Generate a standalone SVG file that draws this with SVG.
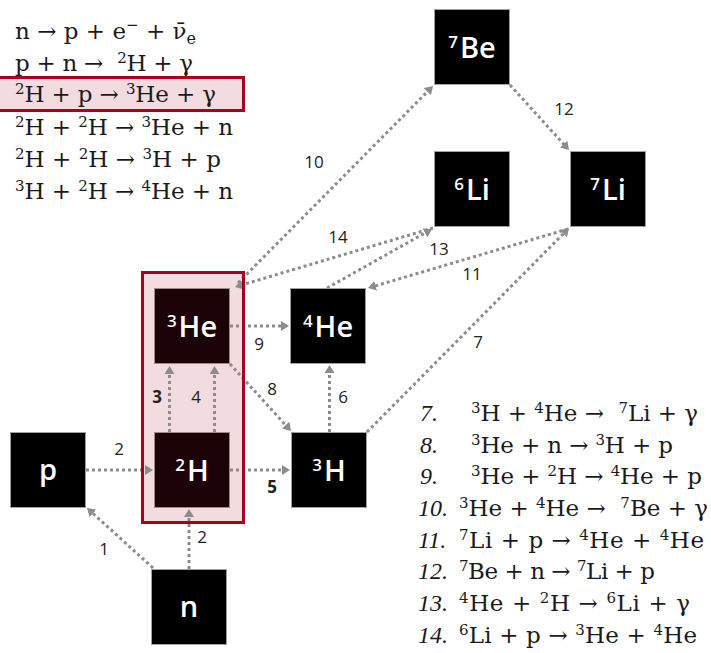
<svg xmlns="http://www.w3.org/2000/svg" width="711" height="653" viewBox="0 0 711 653">
<style>
.eq{font-family:"DejaVu Serif","Liberation Serif",serif;font-size:23px;fill:#1a1a1a}
.s{font-size:15px}
.num{font-family:"Liberation Serif",serif;font-style:italic;font-size:24px;fill:#1a1a1a}
.box{fill:#000;stroke:#a0a0a0;stroke-width:1}
.hbox{fill:#1c0307;stroke:#a08888;stroke-width:1}
.nl{font-family:"Open Sans","DejaVu Sans",sans-serif;font-weight:600;font-size:29px;fill:#fff;text-anchor:middle}
.sup{font-size:17px}
.c{stroke:#8c8c8c;stroke-width:3;stroke-dasharray:3 3;fill:none;marker-end:url(#ah)}
.lb{font-family:"Open Sans","DejaVu Sans",sans-serif;font-size:17px;fill:#222;text-anchor:middle}
.b{font-weight:700}
</style>
<defs>
<marker id="ah" markerUnits="userSpaceOnUse" markerWidth="8" markerHeight="10" refX="5" refY="5" orient="auto">
<path d="M0,0 L8,5 L0,10 z" fill="#8c8c8c"/>
</marker>
</defs>
<rect width="711" height="653" fill="#fff"/>

<g id="equations-left">
<rect x="-2" y="77.5" width="245.5" height="33" fill="#f2dcdf" stroke="#a8001f" stroke-width="3"/>
<text class="eq" x="15" y="39" textLength="181">n → p + e<tspan class="s" dy="-9">−</tspan><tspan dy="9"> + ν̄</tspan><tspan font-size="16" dy="5">e</tspan></text>
<text class="eq" x="15" y="71" textLength="178">p + n →&#160; <tspan class="s" dy="-8">2</tspan><tspan dy="8">H + γ</tspan></text>
<text class="eq" x="15" y="102" textLength="201"><tspan class="s" dy="-8">2</tspan><tspan dy="8">H + p → </tspan><tspan class="s" dy="-8">3</tspan><tspan dy="8">He + γ</tspan></text>
<text class="eq" x="15" y="135" textLength="218"><tspan class="s" dy="-8">2</tspan><tspan dy="8">H + </tspan><tspan class="s" dy="-8">2</tspan><tspan dy="8">H → </tspan><tspan class="s" dy="-8">3</tspan><tspan dy="8">He + n</tspan></text>
<text class="eq" x="15" y="167" textLength="206"><tspan class="s" dy="-8">2</tspan><tspan dy="8">H + </tspan><tspan class="s" dy="-8">2</tspan><tspan dy="8">H → </tspan><tspan class="s" dy="-8">3</tspan><tspan dy="8">H + p</tspan></text>
<text class="eq" x="15" y="199" textLength="218"><tspan class="s" dy="-8">3</tspan><tspan dy="8">H + </tspan><tspan class="s" dy="-8">2</tspan><tspan dy="8">H → </tspan><tspan class="s" dy="-8">4</tspan><tspan dy="8">He + n</tspan></text>
</g>

<g id="equations-right">
<text class="num" x="420" y="421">7.</text>
<text class="num" x="420" y="453">8.</text>
<text class="num" x="420" y="484">9.</text>
<text class="num" x="418" y="516">10.</text>
<text class="num" x="418" y="548">11.</text>
<text class="num" x="418" y="579">12.</text>
<text class="num" x="418" y="611">13.</text>
<text class="num" x="418" y="643">14.</text>
<text class="eq" x="471" y="421" textLength="227"><tspan class="s" dy="-8">3</tspan><tspan dy="8">H + </tspan><tspan class="s" dy="-8">4</tspan><tspan dy="8">He →&#160; </tspan><tspan class="s" dy="-8">7</tspan><tspan dy="8">Li + γ</tspan></text>
<text class="eq" x="471" y="453" textLength="202"><tspan class="s" dy="-8">3</tspan><tspan dy="8">He + n → </tspan><tspan class="s" dy="-8">3</tspan><tspan dy="8">H + p</tspan></text>
<text class="eq" x="471" y="484" textLength="231"><tspan class="s" dy="-8">3</tspan><tspan dy="8">He + </tspan><tspan class="s" dy="-8">2</tspan><tspan dy="8">H → </tspan><tspan class="s" dy="-8">4</tspan><tspan dy="8">He + p</tspan></text>
<text class="eq" x="459" y="516" textLength="249"><tspan class="s" dy="-8">3</tspan><tspan dy="8">He + </tspan><tspan class="s" dy="-8">4</tspan><tspan dy="8">He →&#160; </tspan><tspan class="s" dy="-8">7</tspan><tspan dy="8">Be + γ</tspan></text>
<text class="eq" x="459" y="548" textLength="245"><tspan class="s" dy="-8">7</tspan><tspan dy="8">Li + p → </tspan><tspan class="s" dy="-8">4</tspan><tspan dy="8">He + </tspan><tspan class="s" dy="-8">4</tspan><tspan dy="8">He</tspan></text>
<text class="eq" x="459" y="579" textLength="196"><tspan class="s" dy="-8">7</tspan><tspan dy="8">Be + n → </tspan><tspan class="s" dy="-8">7</tspan><tspan dy="8">Li + p</tspan></text>
<text class="eq" x="459" y="611" textLength="231"><tspan class="s" dy="-8">4</tspan><tspan dy="8">He + </tspan><tspan class="s" dy="-8">2</tspan><tspan dy="8">H → </tspan><tspan class="s" dy="-8">6</tspan><tspan dy="8">Li + γ</tspan></text>
<text class="eq" x="459" y="643" textLength="238"><tspan class="s" dy="-8">6</tspan><tspan dy="8">Li + p → </tspan><tspan class="s" dy="-8">3</tspan><tspan dy="8">He + </tspan><tspan class="s" dy="-8">4</tspan><tspan dy="8">He</tspan></text>
</g>

<rect id="highlight-fill" x="142.5" y="272.5" width="101" height="250" fill="#f2dcdf"/>

<g id="connectors">
<line class="c" x1="153" y1="568" x2="89.2" y2="510"/>
<line class="c" x1="86" y1="470" x2="150" y2="470"/>
<line class="c" x1="189" y1="569" x2="189" y2="512"/>
<line class="c" x1="169.5" y1="432" x2="169.5" y2="369"/>
<line class="c" x1="214.5" y1="432" x2="214.5" y2="369"/>
<line class="c" x1="230" y1="470" x2="287" y2="470"/>
<line class="c" x1="329.5" y1="432" x2="329.5" y2="368"/>
<line class="c" x1="367" y1="432" x2="566.9" y2="230.1"/>
<line class="c" x1="230" y1="364" x2="289" y2="428.8"/>
<line class="c" x1="230" y1="326" x2="286" y2="326"/>
<line class="c" x1="238" y1="283" x2="430.9" y2="88.1"/>
<line class="c" x1="568" y1="229" x2="370.9" y2="287.2"/>
<line class="c" x1="510" y1="85" x2="567" y2="147.8"/>
<line class="c" x1="327" y1="288" x2="429.4" y2="230.5"/>
<line class="c" x1="433" y1="228" x2="237.9" y2="286.1"/>
<text class="lb" x="104" y="555">1</text>
<text class="lb" x="119" y="455">2</text>
<text class="lb" x="202" y="543">2</text>
<text class="lb b" x="157" y="403">3</text>
<text class="lb" x="196" y="403">4</text>
<text class="lb b" x="272" y="493">5</text>
<text class="lb" x="343" y="403">6</text>
<text class="lb" x="478" y="348">7</text>
<text class="lb" x="272" y="395">8</text>
<text class="lb" x="259" y="350">9</text>
<text class="lb" x="314" y="168">10</text>
<text class="lb" x="472" y="280">11</text>
<text class="lb" x="564" y="115">12</text>
<text class="lb" x="439" y="255">13</text>
<text class="lb" x="338" y="243">14</text>
</g>

<g id="node-p"><rect class="box" x="10.5" y="432.5" width="75" height="75"/><text class="nl" x="48" y="480">p</text></g>
<g id="node-n"><rect class="box" x="151.5" y="569.5" width="75" height="75"/><text class="nl" x="189" y="617">n</text></g>
<g id="node-2H"><rect class="hbox" x="154.5" y="432.5" width="75" height="75"/><text class="nl" x="192" y="481" fill="#f4e2e4"><tspan class="sup" dy="-10">2</tspan><tspan dy="10" dx="2">H</tspan></text></g>
<g id="node-3He"><rect class="hbox" x="154.5" y="288.5" width="75" height="75"/><text class="nl" x="192" y="337" fill="#f4e2e4"><tspan class="sup" dy="-10">3</tspan><tspan dy="10" dx="2">He</tspan></text></g>
<g id="node-4He"><rect class="box" x="290.5" y="288.5" width="75" height="75"/><text class="nl" x="328" y="337"><tspan class="sup" dy="-10">4</tspan><tspan dy="10" dx="2">He</tspan></text></g>
<g id="node-3H"><rect class="box" x="291.5" y="432.5" width="75" height="75"/><text class="nl" x="329" y="481"><tspan class="sup" dy="-10">3</tspan><tspan dy="10" dx="2">H</tspan></text></g>
<g id="node-7Be"><rect class="box" x="434.5" y="9.5" width="75" height="75"/><text class="nl" x="472" y="58"><tspan class="sup" dy="-10">7</tspan><tspan dy="10" dx="2">Be</tspan></text></g>
<g id="node-6Li"><rect class="box" x="434.5" y="151.5" width="75" height="75"/><text class="nl" x="472" y="200"><tspan class="sup" dy="-10">6</tspan><tspan dy="10" dx="2">Li</tspan></text></g>
<g id="node-7Li"><rect class="box" x="570.5" y="151.5" width="75" height="75"/><text class="nl" x="608" y="200"><tspan class="sup" dy="-10">7</tspan><tspan dy="10" dx="2">Li</tspan></text></g>

<rect id="highlight-border" x="142.5" y="272.5" width="101" height="250" fill="none" stroke="#a8001f" stroke-width="3"/>
</svg>
